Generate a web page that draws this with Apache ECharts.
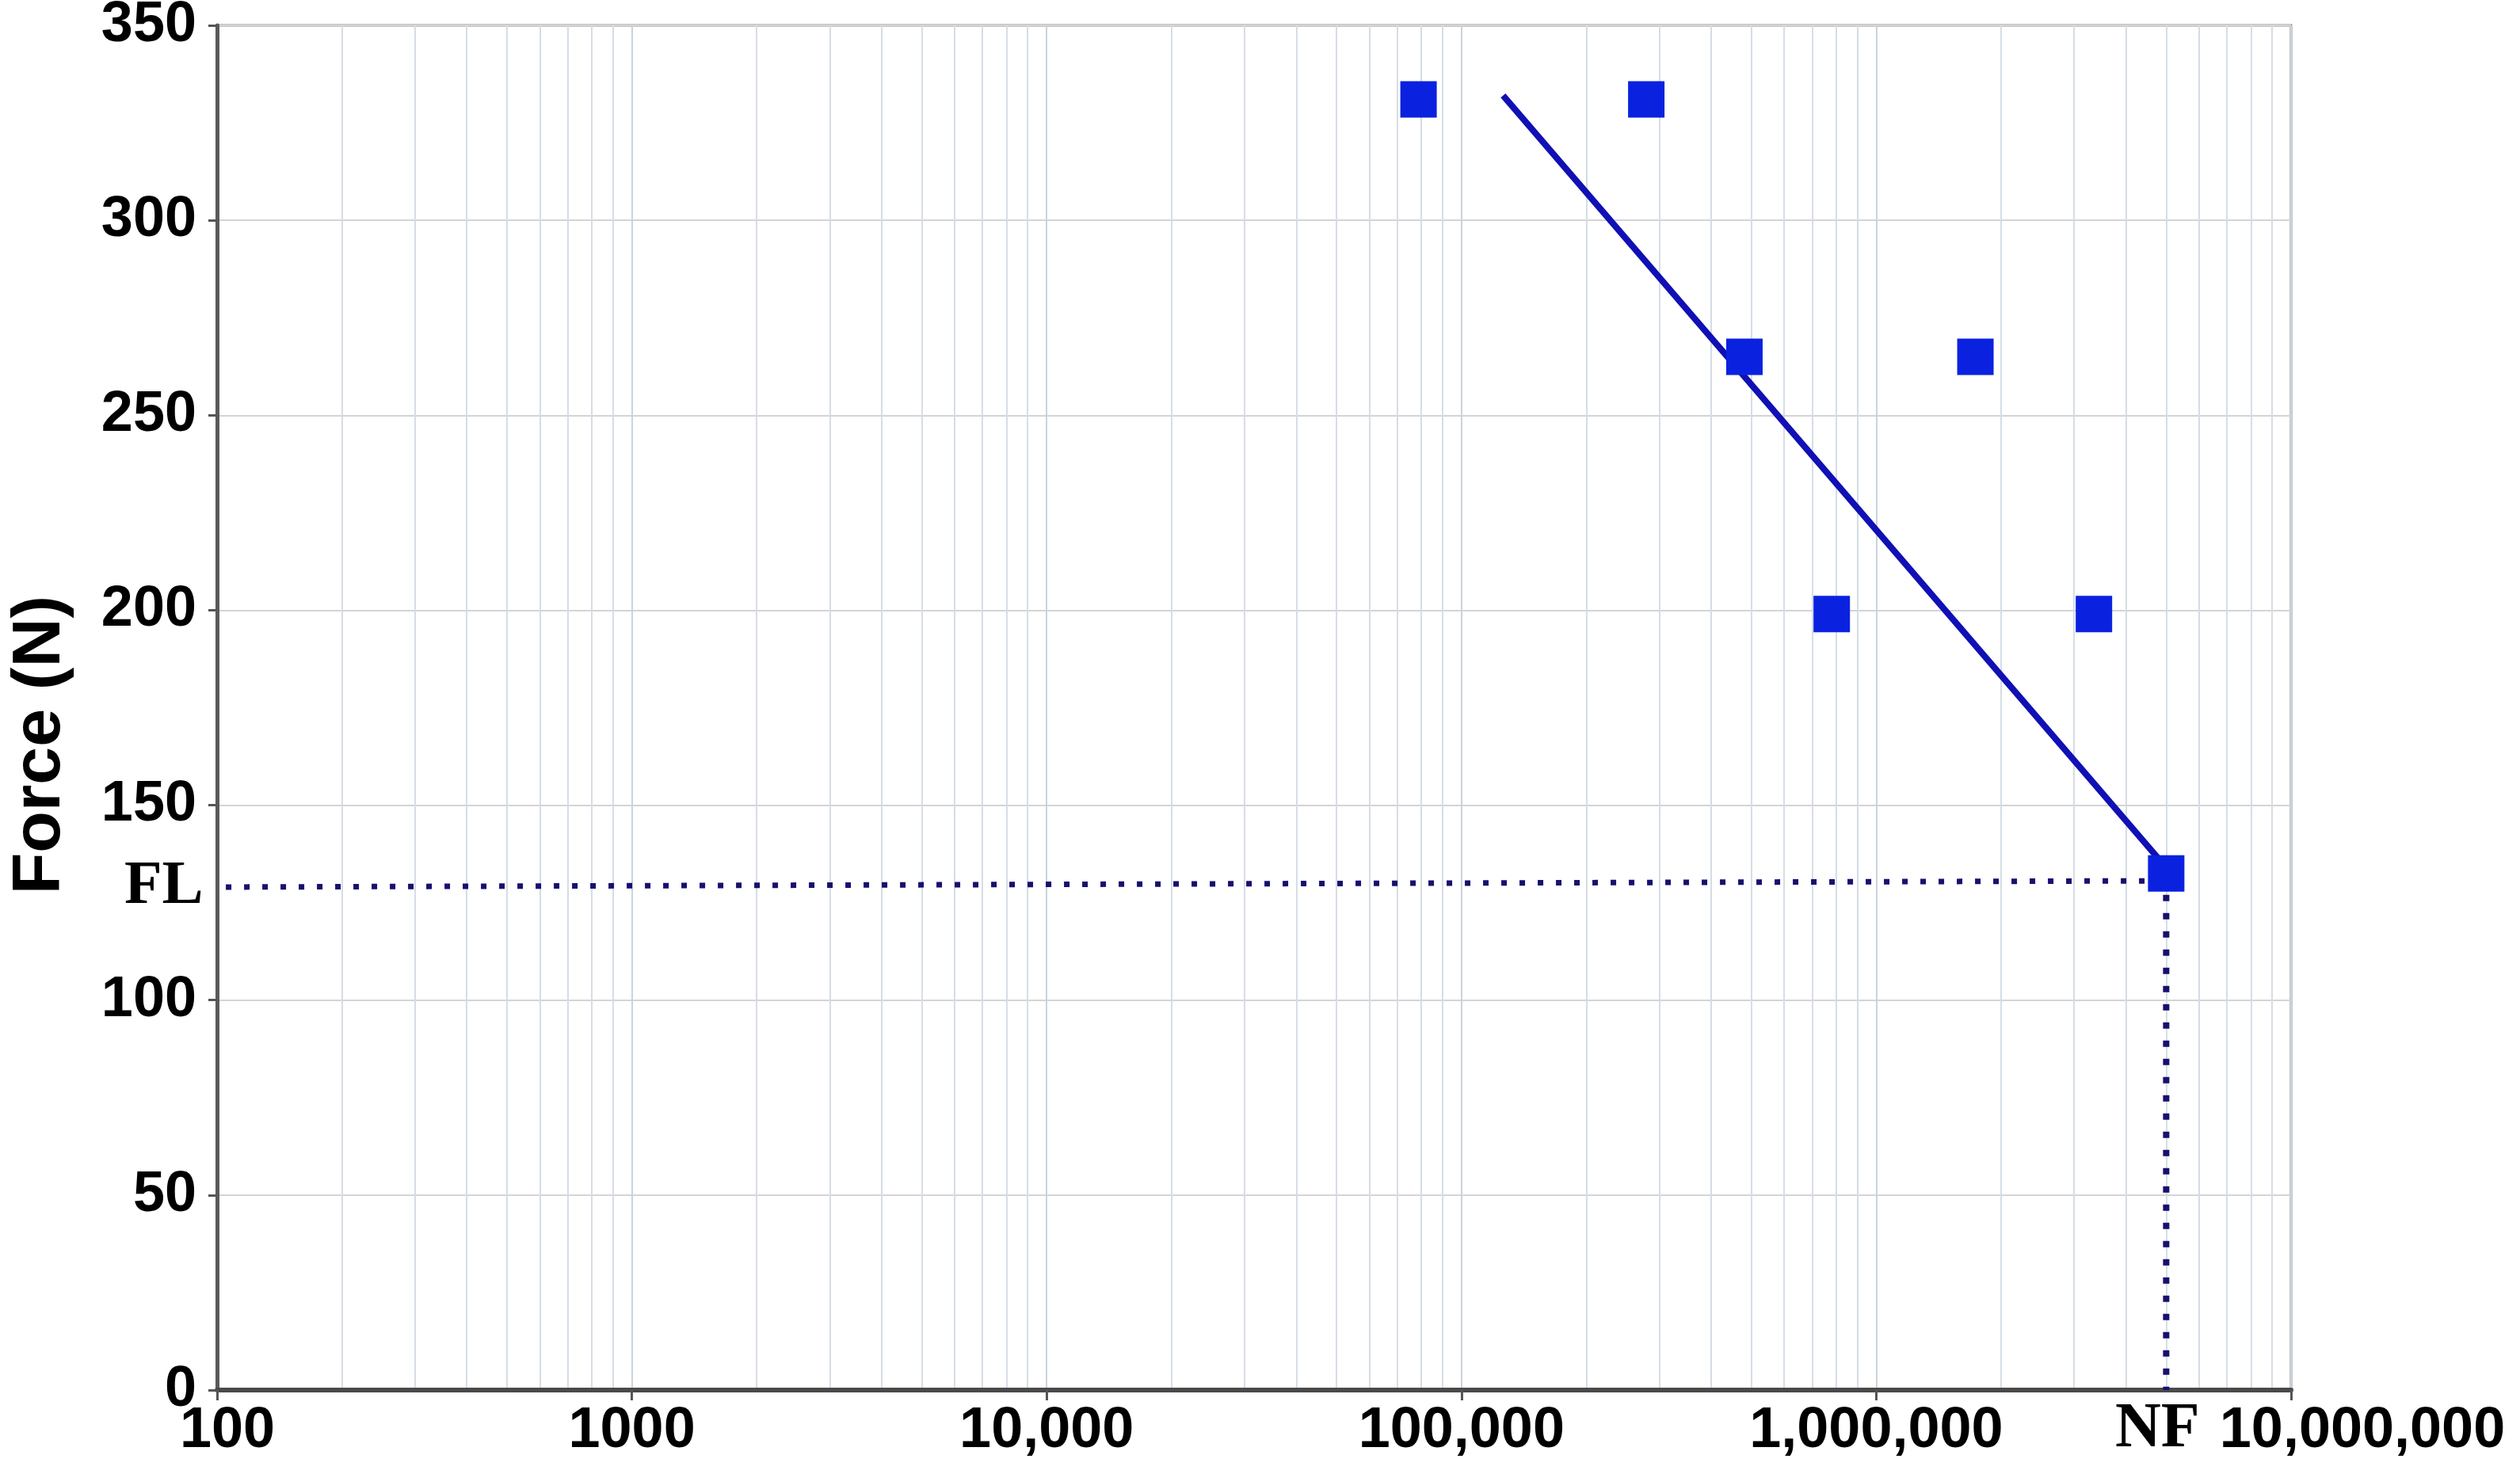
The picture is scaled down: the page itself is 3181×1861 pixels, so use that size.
<!DOCTYPE html>
<html>
<head>
<meta charset="utf-8">
<script src="https://cdn.jsdelivr.net/npm/echarts@6/dist/echarts.min.js"></script>
<style>
html,body{margin:0;padding:0;background:#fff;}
#chart{width:3181px;height:1861px;}
</style>
</head>
<body>
<div id="chart"></div>
<script>
// ---- data ----
const cycles = [78800, 279000, 481000, 1734000, 781000, 3348000, 5000000];
const forces = [331, 331, 265, 265, 199, 199, 132.5];
const trendX = [126000, 5000000];
const trendY = [332, 134];
const flX = [105, 4750000];
const flY = [129, 130.6];
const nfX = [5000000, 5000000];
const nfY = [127, 0];
const xTickValues = [100, 1000, 10000, 100000, 1000000, 10000000];
const xTickLabels = ['100', '1000', '10,000', '100,000', '1,000,000', '10,000,000'];
const yTicks = [0, 50, 100, 150, 200, 250, 300, 350];
const decades = [100, 1000, 10000, 100000, 1000000];
const multiples = [2, 3, 4, 5, 6, 7, 8, 9];
const annotNames = ['FL', 'NF'];

const minorTicks = [];
decades.forEach(d => multiples.forEach(m => minorTicks.push(d * m)));

const chart = echarts.init(document.getElementById('chart'));
const sans = 'Liberation Sans, Arial, sans-serif';
const serif = 'Liberation Serif, Times New Roman, serif';

chart.setOption({
  animation: false,
  backgroundColor: '#ffffff',
  grid: {
    left: 274, right: 289, top: 32, bottom: 106,
    containLabel: false, outerBoundsMode: 'none',
    show: true, borderColor: '#8c8c8c', borderWidth: 3
  },
  xAxis: {
    type: 'log', logBase: 10, min: 100, max: 10000000,
    axisLine: { show: true, lineStyle: { color: '#4a4a4a', width: 6 } },
    axisTick: { show: true, inside: false, length: 13, lineStyle: { color: '#555', width: 3 } },
    axisLabel: {
      margin: 16,
      fontFamily: sans, fontWeight: 'bold', fontSize: 72, color: '#000',
      formatter: function (v) {
        const i = xTickValues.findIndex(t => Math.abs(Math.log10(t) - Math.log10(v)) < 1e-6);
        const s = i >= 0 ? xTickLabels[i] : '';
        if (i === 0) return '{first|' + s + '}';
        if (i === xTickValues.length - 1) return '{last|' + s + '}';
        return s;
      },
      rich: {
        first: { padding: [0, 0, 0, 26], fontFamily: sans, fontWeight: 'bold', fontSize: 72, color: '#000' },
        last: { padding: [0, 0, 0, 180], fontFamily: sans, fontWeight: 'bold', fontSize: 72, color: '#000' }
      }
    },
    splitLine: { show: true, lineStyle: { color: '#c9d3dd', width: 2 } },
    minorTick: { show: false },
    minorSplitLine: { show: false }
  },
  yAxis: {
    type: 'value', min: 0, max: 350, interval: 50,
    name: 'Force (N)',
    nameLocation: 'middle',
    nameRotate: 90,
    nameGap: 180,
    nameTextStyle: { fontFamily: sans, fontWeight: 'bold', fontSize: 86, color: '#000', padding: [0, 94, 0, 0] },
    axisLine: { show: true, lineStyle: { color: '#5a5a5a', width: 5 } },
    axisTick: { show: true, inside: false, length: 11, lineStyle: { color: '#555', width: 3 } },
    axisLabel: {
      margin: 26,
      fontFamily: sans, fontWeight: 'bold', fontSize: 72, color: '#000',
      formatter: function (v) { return yTicks.indexOf(v) >= 0 ? String(v) : ''; }
    },
    splitLine: { show: true, lineStyle: { color: '#d4d4d4', width: 2 } }
  },
  series: [
    {
      name: 'minorGrid', type: 'line', data: [], z: 0, silent: true,
      markLine: {
        z: 0, silent: true, symbol: ['none', 'none'], animation: false,
        label: { show: false },
        lineStyle: { type: 'solid', color: '#d5dde6', width: 2 },
        data: minorTicks.map(v => ({ xAxis: v }))
      }
    },
    {
      name: 'FL', type: 'line', z: 3,
      data: flX.map((x, i) => [x, flY[i]]),
      showSymbol: false, symbol: 'none',
      lineStyle: { color: '#17106e', width: 7, type: [7, 16], cap: 'butt', opacity: 1 }
    },
    {
      name: 'NF', type: 'line', z: 3,
      data: nfX.map((x, i) => [x, nfY[i]]),
      showSymbol: false, symbol: 'none',
      lineStyle: { color: '#17106e', width: 8, type: [8, 15], cap: 'butt', opacity: 1 }
    },
    {
      name: 'trend', type: 'line', z: 4,
      data: trendX.map((x, i) => [x, trendY[i]]),
      showSymbol: false, symbol: 'none',
      lineStyle: { color: '#1010b4', width: 8, opacity: 1 }
    },
    {
      name: 'tests', type: 'scatter', z: 5,
      data: cycles.map((x, i) => [x, forces[i]]),
      symbol: 'rect', symbolSize: 46,
      itemStyle: { color: '#0a22e0', opacity: 1 }
    },
    {
      name: 'annot', type: 'scatter', z: 6, silent: true,
      symbolSize: 1,
      itemStyle: { color: 'rgba(0,0,0,0)', opacity: 1 },
      data: [
        { name: annotNames[0], value: [flX[0], flY[0]],
          label: { show: true, position: 'left', distance: 28, formatter: '{b}',
                   fontFamily: serif, fontWeight: 'bold', fontSize: 78, color: '#000' } },
        { name: annotNames[1], value: [nfX[1], nfY[1]],
          label: { show: true, position: 'bottom', distance: 10, offset: [-11, 0], formatter: '{b}',
                   fontFamily: serif, fontWeight: 'bold', fontSize: 80, color: '#000' } }
      ]
    }
  ]
});
</script>
</body>
</html>
